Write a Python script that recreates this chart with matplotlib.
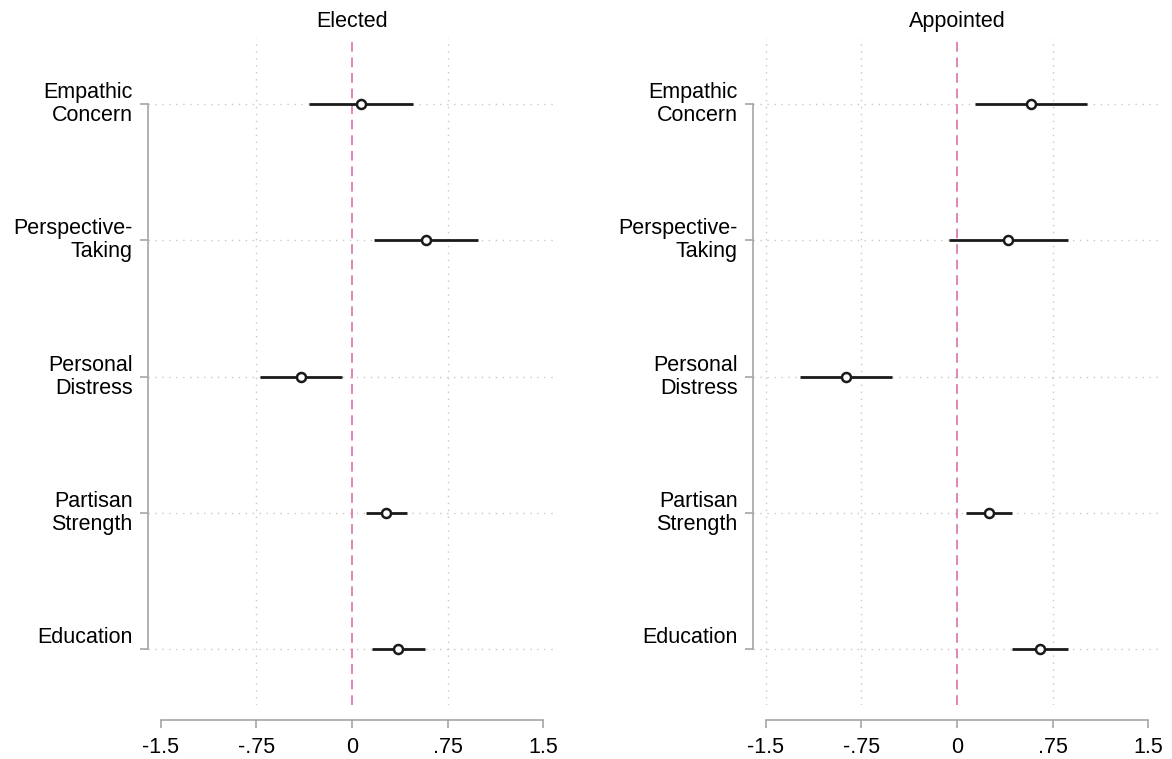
import numpy as np
import matplotlib
matplotlib.use("Agg")
import matplotlib.pyplot as plt

plt.rcParams['font.family'] = ['Liberation Sans', 'DejaVu Sans']

# coefficient estimates and 95% intervals
labels = ['Empathic\nConcern', 'Perspective-\nTaking', 'Personal\nDistress',
          'Partisan\nStrength', 'Education\n ']

elected_est = [0.07, 0.58, -0.40, 0.27, 0.36]
elected_lo = [-0.34, 0.17, -0.72, 0.11, 0.16]
elected_hi = [0.48, 0.99, -0.08, 0.43, 0.57]

appointed_est = [0.58, 0.40, -0.87, 0.25, 0.65]
appointed_lo = [0.14, -0.06, -1.23, 0.07, 0.43]
appointed_hi = [1.02, 0.87, -0.51, 0.43, 0.87]

xticks = [-1.5, -0.75, 0, 0.75, 1.5]
xticklabels = ['-1.5', '-.75', '0', '.75', '1.5']

# vertical grid positions differ a bit between the two panels
elected_grid = [-0.75, 0.75]
appointed_grid = [-1.5, -0.75, 0.75]

panels = [
    ('Elected', elected_est, elected_lo, elected_hi, elected_grid),
    ('Appointed', appointed_est, appointed_lo, appointed_hi, appointed_grid),
]

spine_col = '#a6a6a6'
grid_col = '#c8c8c8'

fig = plt.figure(figsize=(11.72, 7.59), dpi=100)
ax_left = [148 / 1172, 753 / 1172]
w = 408 / 1172
bottom = 1 - 705 / 759
h = (705 - 38) / 759

for i, (title, est, lo, hi, vgrid) in enumerate(panels):
    ax = fig.add_axes([ax_left[i], bottom, w, h])
    ypos = np.arange(len(labels))

    for x in vgrid:
        ax.axvline(x, color=grid_col, lw=1, ls=(0, (1, 4)), zorder=0)
    for y in ypos:
        ax.axhline(y, color=grid_col, lw=1, ls=(0, (1, 4)), zorder=0)
    ax.axvline(0, color='#df85b8', lw=1.4, ls=(0, (5, 3)), zorder=1)

    ax.hlines(ypos, lo, hi, color='#1a1a1a', lw=2, zorder=2)
    ax.plot(est, ypos, 'o', ms=6.5, mfc='white', mec='#1a1a1a', mew=1.8, zorder=3)

    ax.set_xlim(-1.6, 1.6)
    ax.set_ylim(len(labels) - 1 + 0.41, -0.485)
    ax.set_xticks(xticks)
    ax.set_xticklabels(xticklabels)
    ax.set_yticks(ypos)
    ax.set_yticklabels(labels, linespacing=1.12, ha='right', va='center')

    for s in ['top', 'right']:
        ax.spines[s].set_visible(False)
    ax.spines['left'].set_bounds(0, len(labels) - 1)
    ax.spines['bottom'].set_bounds(-1.5, 1.5)
    ax.spines['bottom'].set_position(('outward', 11))
    for s in ['left', 'bottom']:
        ax.spines[s].set_color(spine_col)
        ax.spines[s].set_linewidth(1.2)
    ax.tick_params(axis='both', colors=spine_col, labelcolor='black',
                   labelsize=15.5, length=6, width=1.2)
    ax.tick_params(axis='y', pad=5)
    ax.tick_params(axis='x', pad=6)
    ax.set_title(title, fontsize=15.5, pad=8)

fig.savefig('out.png', dpi=100)
